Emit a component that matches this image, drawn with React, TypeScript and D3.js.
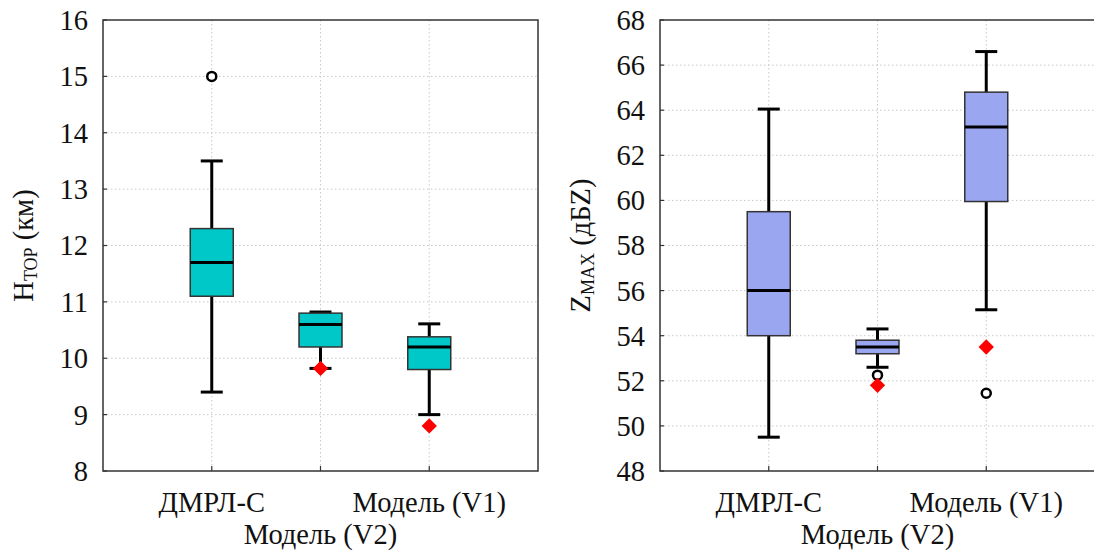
import React from "react";
import * as d3 from "d3";

const categories = ["ДМРЛ-С", "Модель (V2)", "Модель (V1)"];

// Left panel: H_TOP (км)
const hLow = [9.4, 9.82, 9.0];
const hQ1 = [11.1, 10.2, 9.8];
const hMed = [11.7, 10.6, 10.2];
const hQ3 = [12.3, 10.8, 10.38];
const hHigh = [13.5, 10.82, 10.61];
const hOutliers = [[15.0], [], []];
const hMean = [null, 9.82, 8.8];
const hTicks = [8, 9, 10, 11, 12, 13, 14, 15, 16];

// Right panel: Z_MAX (дБZ)
const zLow = [49.5, 52.6, 55.15];
const zQ1 = [54.0, 53.2, 59.95];
const zMed = [56.0, 53.5, 63.25];
const zQ3 = [59.5, 53.8, 64.8];
const zHigh = [64.05, 54.3, 66.6];
const zOutliers = [[], [52.25], [51.45]];
const zMean = [null, 51.8, 53.5];
const zTicks = [48, 50, 52, 54, 56, 58, 60, 62, 64, 66, 68];

const FONT = "Liberation Serif";
const FS = 28.5;

type PanelProps = {
  left: number;
  low: number[];
  q1: number[];
  med: number[];
  q3: number[];
  high: number[];
  outliers: number[][];
  mean: (number | null)[];
  ticks: number[];
  domain: [number, number];
  fill: string;
  label: React.ReactNode;
  labelX: number;
};

function Panel(p: PanelProps) {
  const top = 20;
  const bottom = 471;
  const width = 435;
  const x = d3.scaleLinear().domain([0, 4]).range([p.left, p.left + width]);
  const y = d3.scaleLinear().domain(p.domain).range([bottom, top]);
  const boxW = 43;
  const capW = 22;
  const diamond = d3.symbol().type(d3.symbolDiamond2).size(150)() as string;
  return (
    <g>
      {/* grid */}
      {p.ticks.slice(1, -1).map((t) => (
        <line key={"gy" + t} x1={p.left} x2={p.left + width} y1={y(t)} y2={y(t)}
          stroke="#c8c8c8" strokeWidth={1} strokeDasharray="1.5,2.5" />
      ))}
      {categories.map((c, i) => (
        <line key={"gx" + i} x1={x(i + 1)} x2={x(i + 1)} y1={top} y2={bottom}
          stroke="#c8c8c8" strokeWidth={1} strokeDasharray="1.5,2.5" />
      ))}
      {/* tick marks */}
      {p.ticks.map((t) => (
        <line key={"ty" + t} x1={p.left} x2={p.left + 4} y1={y(t)} y2={y(t)} stroke="#333" strokeWidth={1.2} />
      ))}
      {categories.map((c, i) => (
        <line key={"tx" + i} x1={x(i + 1)} x2={x(i + 1)} y1={bottom} y2={bottom - 5} stroke="#333" strokeWidth={1.2} />
      ))}
      {/* tick labels */}
      {p.ticks.map((t) => (
        <text key={"tl" + t} x={p.left - 15} y={y(t)} dy="0.35em" textAnchor="end"
          fontFamily={FONT} fontSize={FS} fill="#111">{t}</text>
      ))}
      {/* boxes */}
      {categories.map((c, i) => {
        const cx = x(i + 1);
        return (
          <g key={"b" + i}>
            <line x1={cx} x2={cx} y1={y(p.high[i])} y2={y(p.q3[i])} stroke="#000" strokeWidth={3} />
            <line x1={cx} x2={cx} y1={y(p.q1[i])} y2={y(p.low[i])} stroke="#000" strokeWidth={3} />
            <line x1={cx - capW / 2} x2={cx + capW / 2} y1={y(p.high[i])} y2={y(p.high[i])} stroke="#000" strokeWidth={3} />
            <line x1={cx - capW / 2} x2={cx + capW / 2} y1={y(p.low[i])} y2={y(p.low[i])} stroke="#000" strokeWidth={3} />
            <rect x={cx - boxW / 2} y={y(p.q3[i])} width={boxW} height={y(p.q1[i]) - y(p.q3[i])}
              fill={p.fill} stroke="#333" strokeWidth={1.5} />
            <line x1={cx - boxW / 2} x2={cx + boxW / 2} y1={y(p.med[i])} y2={y(p.med[i])} stroke="#000" strokeWidth={3} />
            {p.outliers[i].map((o, j) => (
              <circle key={j} cx={cx} cy={y(o)} r={4.5} fill="#fff" stroke="#000" strokeWidth={2.5} />
            ))}
            {p.mean[i] !== null && (
              <path d={diamond} transform={`translate(${cx},${y(p.mean[i] as number)})`} fill="#ff0000" />
            )}
          </g>
        );
      })}
      {/* frame */}
      <rect x={p.left} y={top} width={width} height={bottom - top} fill="none" stroke="#333" strokeWidth={1.5} />
      {/* x labels */}
      <text x={x(1)} y={512} textAnchor="middle" fontFamily={FONT} fontSize={FS} fill="#111">{categories[0]}</text>
      <text x={x(3)} y={512} textAnchor="middle" fontFamily={FONT} fontSize={FS} fill="#111">{categories[2]}</text>
      <text x={x(2)} y={544} textAnchor="middle" fontFamily={FONT} fontSize={FS} fill="#111">{categories[1]}</text>
      {/* y label */}
      <text transform={`translate(${p.labelX},${(top + bottom) / 2}) rotate(-90)`} textAnchor="middle"
        fontFamily={FONT} fontSize={FS} fill="#111">{p.label}</text>
    </g>
  );
}

export default function App() {
  return (
    <svg width={1094} height={553} style={{ position: "absolute", left: 0, top: 0, background: "#fff" }}>
      <rect x={0} y={0} width={1094} height={553} fill="#fff" />
      <Panel left={103} low={hLow} q1={hQ1} med={hMed} q3={hQ3} high={hHigh} outliers={hOutliers}
        mean={hMean} ticks={hTicks} domain={[8, 16]} fill="#00c8c8" labelX={33}
        label={<>H<tspan fontSize={18} dy={4}>TOP</tspan><tspan dy={-4}> (км)</tspan></>} />
      <Panel left={660} low={zLow} q1={zQ1} med={zMed} q3={zQ3} high={zHigh} outliers={zOutliers}
        mean={zMean} ticks={zTicks} domain={[48, 68]} fill="#9ba6f0" labelX={590}
        label={<>Z<tspan fontSize={18} dy={4}>MAX</tspan><tspan dy={-4}> (дБZ)</tspan></>} />
    </svg>
  );
}
